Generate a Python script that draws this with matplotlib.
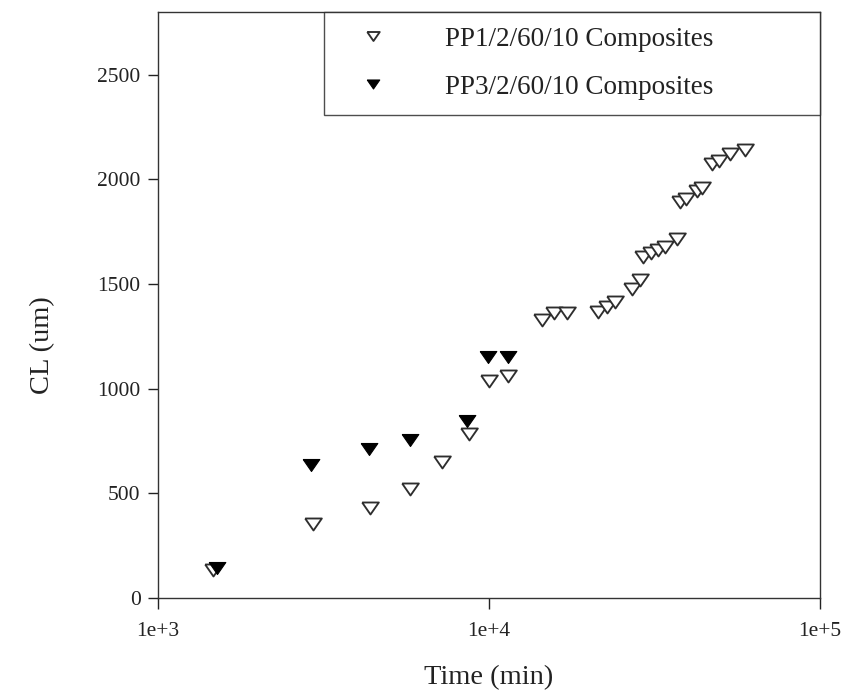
import matplotlib
matplotlib.use("Agg")
import matplotlib.pyplot as plt
from matplotlib.ticker import FixedLocator, FixedFormatter, NullLocator

# Crack length versus time for the two composites
pp1_time = [1470, 2940, 4370, 5780, 7200, 8700, 10000, 11440,
            14430, 15740, 17200, 21400, 22700, 24050, 27130, 28540,
            29250, 30830, 32380, 34110, 36900, 37770, 39430, 42490,
            44070, 47210, 49460, 53340, 59200]
pp1_cl = [134, 353, 428, 520, 650, 785, 1038, 1062,
          1326, 1363, 1363, 1366, 1390, 1414, 1478, 1521,
          1629, 1648, 1663, 1679, 1716, 1891, 1907, 1947,
          1960, 2073, 2090, 2121, 2140]

pp3_time = [1510, 2900, 4350, 5770, 8600, 9950, 11440]
pp3_cl = [145, 634, 714, 754, 846, 1153, 1153]

series_labels = ["PP1/2/60/10 Composites", "PP3/2/60/10 Composites"]

x_ticks = [1e3, 1e4, 1e5]
x_tick_labels = ["1e+3", "1e+4", "1e+5"]
y_ticks = [0, 500, 1000, 1500, 2000, 2500]
y_tick_labels = ["0", "500", "1000", "1500", "2000", "2500"]

plt.rcParams["font.family"] = ["Liberation Serif", "DejaVu Serif"]

# flattened downward triangle
tri_down = [(-1.0, 0.72), (1.0, 0.72), (0.0, -0.72), (-1.0, 0.72)]

fig = plt.figure(figsize=(8.48, 6.96), dpi=100)
ax = fig.add_axes([158 / 848, 1 - 598 / 696, (820 - 158) / 848, (598 - 12) / 696])

ax.plot(pp1_time, pp1_cl, linestyle="none", marker=tri_down, markersize=12,
        markerfacecolor="white", markeredgecolor="#2e2e2e", markeredgewidth=1.35,
        label=series_labels[0], zorder=3)
ax.plot(pp3_time, pp3_cl, linestyle="none", marker=tri_down, markersize=12,
        markerfacecolor="black", markeredgecolor="black", markeredgewidth=0.8,
        label=series_labels[1], zorder=4)

ax.set_xscale("log")
ax.set_xlim(1e3, 1e5)
ax.set_ylim(0, 2800)

ax.xaxis.set_major_locator(FixedLocator(x_ticks))
ax.xaxis.set_major_formatter(FixedFormatter(x_tick_labels))
ax.xaxis.set_minor_locator(NullLocator())
ax.yaxis.set_major_locator(FixedLocator(y_ticks))
ax.yaxis.set_major_formatter(FixedFormatter(y_tick_labels))

ax.tick_params(axis="x", direction="out", length=8, width=1.0, pad=9,
               labelsize=15.5, colors="#222222")
ax.tick_params(axis="y", direction="out", length=7.5, width=1.0, pad=5,
               labelsize=15.5, colors="#222222")

for sp in ax.spines.values():
    sp.set_linewidth(1.0)
    sp.set_color("#333333")

ax.set_xlabel("Time (min)", fontsize=20.5, color="#222222")
ax.set_ylabel("CL (um)", fontsize=20.5, color="#222222")
ax.xaxis.set_label_coords(0.5, -0.114)
ax.yaxis.set_label_coords(-0.155, 0.432)

leg = ax.legend(loc="upper right",
                bbox_to_anchor=(324 / 848, 1 - 118 / 696, (820 - 324) / 848, (118 - 12) / 696),
                bbox_transform=fig.transFigure, mode="expand", borderaxespad=0,
                fontsize=19.5, markerscale=0.75, handlelength=2.5, handletextpad=1.4,
                labelspacing=0.85, borderpad=0.55, fancybox=False, frameon=True)
leg.get_frame().set_edgecolor("#222222")
leg.get_frame().set_linewidth(1.0)
for t in leg.get_texts():
    t.set_color("#222222")

fig.savefig("out.png", dpi=100, facecolor="white")
